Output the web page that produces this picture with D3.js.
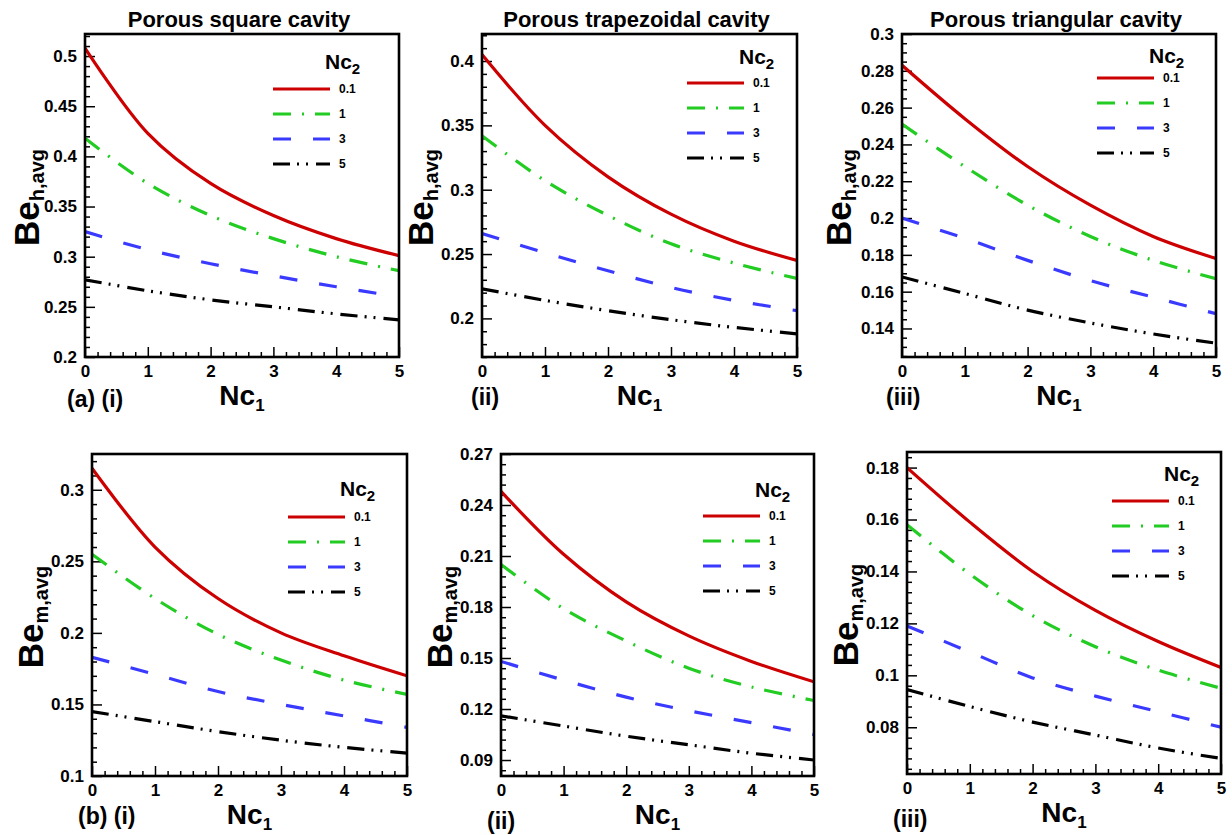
<!DOCTYPE html>
<html>
<head>
<meta charset="utf-8">
<script src="https://cdn.jsdelivr.net/npm/d3@7"></script>
<style>
  body { margin: 0; background: #fff; }
  svg text { font-family: "Liberation Sans", Arial, Helvetica, sans-serif; font-weight: bold; fill: #000; }
</style>
</head>
<body>
<svg id="fig" width="1232" height="835"></svg>
<script>
// valores (Nc1 = 0..5), uma linha por Nc2
const nc1 = [0, 1, 2, 3, 4, 5];
const nc2 = ["0.1", "1", "3", "5"];
const xTicks = [0, 1, 2, 3, 4, 5];

const beH_square = [
  [0.508, 0.423, 0.373, 0.341, 0.318, 0.301],
  [0.418, 0.373, 0.341, 0.318, 0.300, 0.286],
  [0.325, 0.307, 0.293, 0.281, 0.270, 0.260],
  [0.277, 0.266, 0.257, 0.250, 0.243, 0.237]
];
const beH_trap = [
  [0.405, 0.350, 0.310, 0.281, 0.260, 0.245],
  [0.342, 0.307, 0.280, 0.258, 0.243, 0.231],
  [0.266, 0.251, 0.237, 0.224, 0.214, 0.206],
  [0.223, 0.214, 0.206, 0.199, 0.193, 0.188]
];
const beH_tri = [
  [0.283, 0.254, 0.228, 0.207, 0.190, 0.178],
  [0.251, 0.228, 0.207, 0.190, 0.177, 0.167],
  [0.200, 0.189, 0.177, 0.166, 0.157, 0.148],
  [0.168, 0.159, 0.150, 0.143, 0.137, 0.132]
];
const beM_square = [
  [0.315, 0.260, 0.224, 0.200, 0.184, 0.170],
  [0.255, 0.224, 0.199, 0.181, 0.167, 0.157],
  [0.183, 0.171, 0.159, 0.150, 0.142, 0.134],
  [0.145, 0.138, 0.131, 0.125, 0.120, 0.116]
];
const beM_trap = [
  [0.248, 0.211, 0.183, 0.163, 0.148, 0.136],
  [0.205, 0.179, 0.160, 0.144, 0.133, 0.125],
  [0.148, 0.137, 0.127, 0.119, 0.112, 0.105],
  [0.116, 0.110, 0.104, 0.099, 0.094, 0.090]
];
const beM_tri = [
  [0.180, 0.159, 0.140, 0.125, 0.113, 0.103],
  [0.158, 0.139, 0.123, 0.111, 0.102, 0.095],
  [0.119, 0.109, 0.099, 0.092, 0.086, 0.080],
  [0.0945, 0.088, 0.082, 0.077, 0.072, 0.068]
];

// rótulos dos eixos y de cada painel
const yTicks1 = [0.2, 0.25, 0.3, 0.35, 0.4, 0.45, 0.5];
const yTicks2 = [0.2, 0.25, 0.3, 0.35, 0.4];
const yTicks3 = [0.14, 0.16, 0.18, 0.2, 0.22, 0.24, 0.26, 0.28, 0.3];
const yTicks4 = [0.1, 0.15, 0.2, 0.25, 0.3];
const yTicks5 = [0.09, 0.12, 0.15, 0.18, 0.21, 0.24, 0.27];
const yTicks6 = [0.08, 0.1, 0.12, 0.14, 0.16, 0.18];

const titles = ["Porous square cavity", "Porous trapezoidal cavity", "Porous triangular cavity"];

const colors = ["#cc0000", "#22cc22", "#3a3aff", "#000000"];
const dashes = [null, "18,11,2,11", "18,22", "17,7,2,7,2,8"];

// layout de cada painel (frame, domínio y, legenda, rótulo)
const panels = [
  { data: beH_square, ticks: yTicks1, minor: 0.01, dom: [0.2, 0.522], L: 85, R: 399, T: 34, B: 357,
    sub: "h,avg", title: titles[0], tag: "(a) (i)", tagX: 67, tagY: 407, yl: 46, leg: [126, 35, 55] },
  { data: beH_trap, ticks: yTicks2, minor: 0.01, dom: [0.17, 0.421], L: 482, R: 797, T: 34, B: 357,
    sub: "h,avg", title: titles[1], tag: "(ii)", tagX: 471, tagY: 405, yl: 49, leg: [110, 30, 49] },
  { data: beH_tri, ticks: yTicks3, minor: 0.005, dom: [0.1245, 0.3], L: 902, R: 1216, T: 34, B: 357,
    sub: "h,avg", title: titles[2], tag: "(iii)", tagX: 886, tagY: 405, yl: 51, leg: [119, 29, 44] },
  { data: beM_square, ticks: yTicks4, minor: 0.01, dom: [0.1, 0.325], L: 92, R: 407, T: 454, B: 776,
    sub: "m,avg", title: null, tag: "(b) (i)", tagX: 78, tagY: 824, yl: 49, leg: [119, 42, 63] },
  { data: beM_trap, ticks: yTicks5, minor: 0.006, dom: [0.0806, 0.27], L: 501, R: 814, T: 454, B: 776,
    sub: "m,avg", title: null, tag: "(ii)", tagX: 487, tagY: 829, yl: 49, leg: [111, 43, 62] },
  { data: beM_tri, ticks: yTicks6, minor: 0.004, dom: [0.062, 0.186], L: 907, R: 1221, T: 452, B: 774,
    sub: "m,avg", title: null, tag: "(iii)", tagX: 893, tagY: 827, yl: 49, leg: [109, 29, 49] }
];

const svg = d3.select("#fig");
const fmt = v => String(+v.toFixed(4));

panels.forEach((p, i) => {
  const g = svg.append("g");
  const x = d3.scaleLinear().domain([0, 5]).range([p.L, p.R]);
  const y = d3.scaleLinear().domain(p.dom).range([p.B, p.T]);

  // ticks menores (para dentro)
  const minorY = d3.range(Math.ceil(p.dom[0] / p.minor - 1e-6), Math.floor(p.dom[1] / p.minor + 1e-6) + 1)
    .map(k => k * p.minor)
    .filter(v => !p.ticks.some(t => Math.abs(t - v) < 1e-6));
  const minorX = d3.range(0, 26).map(k => k * 0.2).filter(v => Math.abs(v - Math.round(v)) > 1e-6);

  g.append("g").attr("transform", `translate(${p.L},0)`)
    .call(d3.axisLeft(y).tickValues(minorY).tickSize(-5).tickFormat(""));
  g.append("g").attr("transform", `translate(${p.L},0)`)
    .call(d3.axisLeft(y).tickValues(p.ticks).tickSize(-10).tickPadding(8).tickFormat(fmt));
  g.append("g").attr("transform", `translate(0,${p.B})`)
    .call(d3.axisBottom(x).tickValues(minorX).tickSize(-5).tickFormat(""));
  g.append("g").attr("transform", `translate(0,${p.B})`)
    .call(d3.axisBottom(x).tickValues(xTicks).tickSize(-10).tickPadding(8).tickFormat(d3.format("d")));

  g.selectAll(".domain").remove();
  g.selectAll(".tick line").attr("stroke", "#000").attr("stroke-width", 1.5);
  g.selectAll(".tick text").attr("font-size", 17).attr("font-weight", "bold")
    .attr("font-family", "Liberation Sans, Arial, sans-serif");

  // curvas
  const clipId = "clip" + i;
  g.append("clipPath").attr("id", clipId).append("rect")
    .attr("x", p.L).attr("y", p.T).attr("width", p.R - p.L).attr("height", p.B - p.T);

  const line = d3.line().x((d, k) => x(nc1[k])).y(d => y(d)).curve(d3.curveCatmullRom.alpha(0.5));
  p.data.forEach((s, k) => {
    g.append("path").datum(s)
      .attr("d", line)
      .attr("clip-path", `url(#${clipId})`)
      .attr("fill", "none")
      .attr("stroke", colors[k])
      .attr("stroke-width", 3.2)
      .attr("stroke-dasharray", dashes[k]);
  });

  // moldura
  g.append("rect").attr("x", p.L).attr("y", p.T).attr("width", p.R - p.L).attr("height", p.B - p.T)
    .attr("fill", "none").attr("stroke", "#000").attr("stroke-width", 2.6);

  // legenda
  const lx = p.R - p.leg[0];
  const leg = g.append("g");
  const head = leg.append("text").attr("x", lx + 52).attr("y", p.T + p.leg[1]).attr("font-size", 21);
  head.append("tspan").text("Nc");
  head.append("tspan").attr("font-size", 15).attr("dy", 5).text("2");
  nc2.forEach((lab, k) => {
    const yy = p.T + p.leg[2] + k * 25;
    leg.append("line").attr("x1", lx).attr("x2", lx + 57).attr("y1", yy).attr("y2", yy)
      .attr("stroke", colors[k]).attr("stroke-width", 3.2).attr("stroke-dasharray", dashes[k]);
    leg.append("text").attr("x", lx + 66).attr("y", yy + 4).attr("font-size", 12).text(lab);
  });

  // títulos e rótulos
  const cx = (p.L + p.R) / 2;
  if (p.title) {
    g.append("text").attr("x", cx - 3).attr("y", 27).attr("text-anchor", "middle")
      .attr("font-size", 22).text(p.title);
  }
  const xl = g.append("text").attr("x", cx).attr("y", p.B + 48).attr("text-anchor", "middle").attr("font-size", 28);
  xl.append("tspan").text("Nc");
  xl.append("tspan").attr("font-size", 17).attr("dy", 6).text("1");

  const cy = (p.T + p.B) / 2 + 2;
  const yl = g.append("text").attr("transform", `translate(${p.L - p.yl},${cy}) rotate(-90)`)
    .attr("text-anchor", "middle").attr("font-size", 35);
  yl.append("tspan").text("Be");
  yl.append("tspan").attr("font-size", 20).attr("dy", 5).text(p.sub);

  g.append("text").attr("x", p.tagX).attr("y", p.tagY).attr("font-size", 23).text(p.tag);
});
</script>
</body>
</html>
